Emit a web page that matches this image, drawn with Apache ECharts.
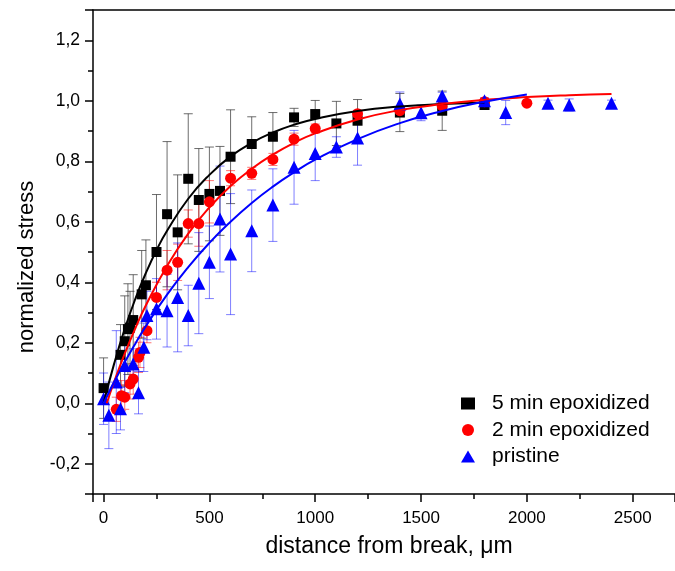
<!DOCTYPE html>
<html>
<head>
<meta charset="utf-8">
<script src="https://cdn.jsdelivr.net/npm/echarts@6/dist/echarts.min.js"></script>
<style>
html,body{margin:0;padding:0;background:#fff;}
#chart{width:675px;height:571px;}
</style>
</head>
<body>
<div id="chart"></div>
<script>
// ---- data ----
const blackX = [0, 80, 100, 115, 125, 140, 180, 200, 250, 300, 350, 400, 450, 500, 550, 600, 700, 800, 900, 1000, 1100, 1200, 1400, 1600, 1800];
const blackY = [0.05, 0.16, 0.205, 0.245, 0.25, 0.275, 0.36, 0.39, 0.5, 0.625, 0.565, 0.742, 0.672, 0.692, 0.702, 0.815, 0.857, 0.881, 0.945, 0.956, 0.925, 0.934, 0.961, 0.967, 0.986];
const blackErr = [0.1, 0.1, 0.15, 0.15, 0.12, 0.15, 0.145, 0.15, 0.19, 0.24, 0.19, 0.215, 0.17, 0.155, 0.147, 0.155, 0.09, 0.08, 0.03, 0.045, 0.073, 0.07, 0.063, 0.065, 0.01];

const redX = [60, 85, 100, 125, 140, 165, 172, 205, 250, 300, 350, 400, 450, 500, 600, 700, 800, 900, 1000, 1200, 1400, 1600, 1800, 2000];
const redY = [-0.02, 0.025, 0.02, 0.064, 0.08, 0.152, 0.168, 0.24, 0.35, 0.44, 0.466, 0.594, 0.594, 0.666, 0.744, 0.76, 0.806, 0.873, 0.908, 0.957, 0.967, 0.983, 0.997, 0.992];
const redErr = [0.04, 0.05, 0.04, 0.05, 0.05, 0.05, 0.05, 0.04, 0.05, 0.065, 0.06, 0.045, 0.075, 0.07, 0.025, 0.02, 0.02, 0.02, 0.015, 0.01, 0.01, 0.01, 0.01, 0.005];

const blueX = [0, 25, 60, 80, 100, 140, 165, 190, 205, 250, 300, 350, 400, 450, 500, 550, 600, 700, 800, 900, 1000, 1100, 1200, 1400, 1500, 1600, 1800, 1900, 2100, 2200, 2400];
const blueY = [0.015, -0.04, 0.07, -0.018, 0.125, 0.13, 0.035, 0.185, 0.29, 0.312, 0.306, 0.35, 0.29, 0.397, 0.466, 0.609, 0.493, 0.57, 0.655, 0.78, 0.826, 0.847, 0.877, 0.989, 0.96, 1.016, 1.0, 0.961, 0.992, 0.986, 0.992];
const blueErr = [0.085, 0.11, 0.17, 0.07, 0.09, 0.05, 0.07, 0.08, 0.08, 0.1, 0.12, 0.18, 0.1, 0.167, 0.12, 0.175, 0.2, 0.135, 0.12, 0.122, 0.09, 0.034, 0.09, 0.04, 0.026, 0.012, 0.01, 0.04, 0.01, 0.02, 0.01];

// fitted curves, points
const blackFitX = [0, 50, 100, 150, 200, 250, 300, 400, 500, 600, 700, 800, 900, 1000, 1200, 1400, 1600, 1800];
const blackFitY = [0, 0.131, 0.246, 0.345, 0.431, 0.506, 0.57, 0.676, 0.755, 0.816, 0.861, 0.895, 0.921, 0.94, 0.966, 0.981, 0.989, 0.994];
const redFitX = [15, 50, 100, 150, 200, 300, 400, 500, 600, 700, 800, 900, 1000, 1200, 1400, 1600, 1800, 2000, 2200, 2400];
const redFitY = [0, 0.071, 0.164, 0.248, 0.324, 0.454, 0.561, 0.647, 0.718, 0.775, 0.822, 0.861, 0.892, 0.938, 0.969, 0.989, 1.003, 1.012, 1.018, 1.022];
const blueFitX = [0, 50, 100, 150, 200, 300, 400, 500, 600, 700, 800, 900, 1000, 1200, 1400, 1600, 1800, 2000];
const blueFitY = [0, 0.07, 0.136, 0.197, 0.255, 0.359, 0.45, 0.53, 0.6, 0.662, 0.716, 0.763, 0.805, 0.873, 0.926, 0.966, 0.997, 1.021];

const seriesNames = ['5 min epoxidized', '2 min epoxidized', 'pristine'];
const xRange = [-50, 2700];
const yRange = [-0.3, 1.3];

// ---- build ----
const zip2 = (xs, ys) => xs.map((x, i) => [x, ys[i]]);
const zip3 = (xs, ys, es) => xs.map((x, i) => [x, ys[i], es[i]]);
const FONT = '"Liberation Sans", Arial, sans-serif';

function errSeries(data, color) {
  return {
    type: 'custom',
    name: 'err_' + color,
    clip: true,
    z: 1,
    encode: { x: 0, y: 1 },
    data: data,
    renderItem: function (params, api) {
      const x = api.value(0), y = api.value(1), e = api.value(2);
      const t = api.coord([x, y + e]);
      const b = api.coord([x, y - e]);
      const hw = 4.5;
      const st = { stroke: color, lineWidth: 1 };
      return {
        type: 'group',
        children: [
          { type: 'line', shape: { x1: t[0], y1: t[1], x2: b[0], y2: b[1] }, style: st },
          { type: 'line', shape: { x1: t[0] - hw, y1: t[1], x2: t[0] + hw, y2: t[1] }, style: st },
          { type: 'line', shape: { x1: b[0] - hw, y1: b[1], x2: b[0] + hw, y2: b[1] }, style: st }
        ]
      };
    }
  };
}

function fitSeries(data, color) {
  return {
    type: 'line', name: 'fit_' + color, data: data, smooth: true, symbol: 'none',
    lineStyle: { color: color, width: 2 }, z: 5, silent: true
  };
}

const fmtY = v => v.toFixed(1).replace('.', ',');
const fmtX = v => String(Math.round(v));

const chart = echarts.init(document.getElementById('chart'), null, { renderer: 'canvas' });
chart.setOption({
  animation: false,
  backgroundColor: '#fff',
  textStyle: { fontFamily: FONT },
  grid: { left: 93, right: -1, top: 10, bottom: 77 },
  legend: {
    data: seriesNames,
    orient: 'vertical',
    left: 456,
    top: 388,
    itemWidth: 14,
    itemHeight: 12,
    itemGap: 5.5,
    textStyle: { fontFamily: FONT, fontSize: 21, color: '#000', padding: [0, 0, 0, 12] }
  },
  xAxis: [{
    type: 'value', min: xRange[0], max: xRange[1], splitNumber: 5,
    name: 'distance from break, \u03bcm', nameLocation: 'middle', nameGap: 41,
    nameTextStyle: { fontFamily: FONT, fontSize: 23, color: '#000', padding: [0, 0, 0, 10] },
    axisLine: { show: true, onZero: false, lineStyle: { color: '#000', width: 1.5 } },
    axisTick: { show: true, inside: false, length: 8, lineStyle: { color: '#000', width: 1.5 } },
    minorTick: { show: true, splitNumber: 2, length: 5, lineStyle: { color: '#000', width: 1.5 } },
    splitLine: { show: false },
    axisLabel: { showMinLabel: false, showMaxLabel: false, margin: 16, fontFamily: FONT, fontSize: 17, color: '#000', formatter: fmtX }
  }, {
    type: 'value', position: 'top', min: xRange[0], max: xRange[1],
    axisLine: { show: true, onZero: false, lineStyle: { color: '#000', width: 1.5 } },
    axisTick: { show: false }, axisLabel: { show: false }, splitLine: { show: false }
  }],
  yAxis: {
    type: 'value', min: yRange[0], max: yRange[1], splitNumber: 8,
    name: 'normalized stress', nameLocation: 'middle', nameGap: 55,
    nameTextStyle: { fontFamily: FONT, fontSize: 22, color: '#000', padding: [0, 30, 0, 0] },
    axisLine: { show: true, onZero: false, lineStyle: { color: '#000', width: 1.5 } },
    axisTick: { show: true, inside: false, length: 8, lineStyle: { color: '#000', width: 1.5 } },
    minorTick: { show: true, splitNumber: 2, length: 5, lineStyle: { color: '#000', width: 1.5 } },
    splitLine: { show: false },
    axisLabel: { showMinLabel: false, showMaxLabel: false, margin: 13, fontFamily: FONT, fontSize: 17.5, color: '#000', formatter: fmtY }
  },
  series: [
    errSeries(zip3(blackX, blackY, blackErr), 'rgba(60,60,60,0.75)'),
    errSeries(zip3(redX, redY, redErr), 'rgba(255,0,0,0.55)'),
    errSeries(zip3(blueX, blueY, blueErr), 'rgba(0,0,255,0.5)'),
    { type: 'scatter', name: seriesNames[0], data: zip2(blackX, blackY), symbol: 'rect', symbolSize: 10, itemStyle: { color: '#000', opacity: 1 }, z: 3 },
    { type: 'scatter', name: seriesNames[1], data: zip2(redX, redY), symbol: 'circle', symbolSize: 11, itemStyle: { color: '#ff0000', opacity: 1 }, z: 3 },
    { type: 'scatter', name: seriesNames[2], data: zip2(blueX, blueY), symbol: 'triangle', symbolSize: 13, itemStyle: { color: '#0000ff', opacity: 1 }, z: 3 },
    fitSeries(zip2(blackFitX, blackFitY), '#000'),
    fitSeries(zip2(redFitX, redFitY), '#ff0000'),
    fitSeries(zip2(blueFitX, blueFitY), '#0000ff')
  ]
});
</script>
</body>
</html>
